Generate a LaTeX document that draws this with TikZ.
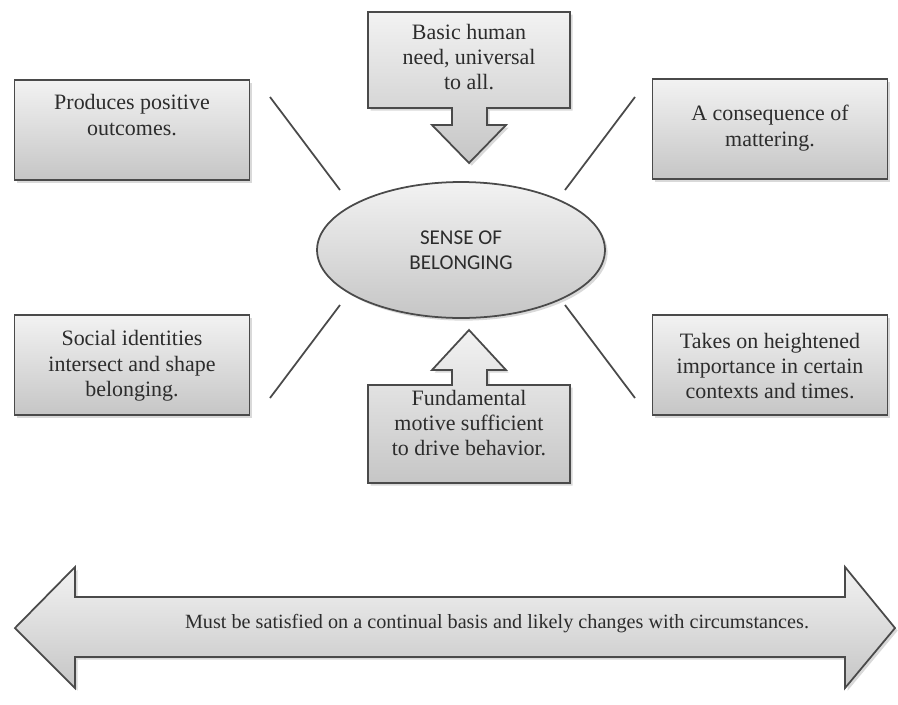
\documentclass[tikz,border=0pt]{standalone}
\usepackage{fontspec}
\setmainfont{Liberation Serif}
\newfontfamily\ovalfont{Carlito}
\usetikzlibrary{shapes.geometric,shadows}
\definecolor{boxline}{HTML}{4A4A4A}
\definecolor{inktext}{HTML}{2C2C2C}
\tikzset{
  panel/.style={draw=boxline, line width=1pt, top color=gray!10, bottom color=gray!45,
    drop shadow={opacity=.3, shadow xshift=1.5pt, shadow yshift=-1.5pt}},
  sidebox/.style={panel, rectangle, minimum width=4.7cm, minimum height=2cm, inner sep=0pt},
  note/.style={text=inktext, align=center, inner sep=0pt, font=\fontsize{12.5}{14.4}\selectfont},
  spoke/.style={draw=boxline, line width=1pt},
}
\begin{document}
\begin{tikzpicture}[x=0.02cm, y=-0.02cm]
  \useasboundingbox (0,0) rectangle (898,704);

  % centre oval
  \node[panel, ellipse, minimum width=5.76cm, minimum height=2.72cm, inner sep=0pt,
        text=inktext, align=center, font=\ovalfont\fontsize{12}{14.5}\selectfont]
        (sense) at (461,250) {SENSE OF\\BELONGING};

  % four side boxes
  \node[sidebox] (posbox) at (132,130) {};
  \node[note] (pos) at (132,115) {Produces positive\\outcomes.};
  \node[sidebox] (matbox) at (770,129) {};
  \node[note] (mat) at (770,128) {A consequence of\\mattering.};
  \node[sidebox] (socbox) at (132,365) {};
  \node[note] (soc) at (132,366) {Social identities\\intersect and shape\\belonging.};
  \node[sidebox] (ctxbox) at (770,365) {};
  \node[note] (ctx) at (770,366) {Takes on heightened\\importance in certain\\contexts and times.};

  % callout from above
  \draw[panel] (368,12) -- (570,12) -- (570,108) -- (487,108) -- (487,125) -- (506,125)
    -- (469,163) -- (432,125) -- (452,125) -- (452,108) -- (368,108) -- cycle;
  \node[note] (need) at (469,57) {Basic human\\need, universal\\to all.};

  % callout from below
  \draw[panel] (368,385) -- (452,385) -- (452,370) -- (432,370) -- (469,330) -- (506,370)
    -- (487,370) -- (487,385) -- (570,385) -- (570,483) -- (368,483) -- cycle;
  \node[note] (drive) at (469,423) {Fundamental\\motive sufficient\\to drive behavior.};

  % spokes
  \coordinate (a1) at (270,97);  \coordinate (a2) at (340,190);
  \coordinate (b1) at (635,97);  \coordinate (b2) at (565,190);
  \coordinate (c1) at (340,305); \coordinate (c2) at (270,398);
  \coordinate (d1) at (565,305); \coordinate (d2) at (635,398);
  \draw[spoke] (a1) -- (a2);
  \draw[spoke] (b1) -- (b2);
  \draw[spoke] (c1) -- (c2);
  \draw[spoke] (d1) -- (d2);

  % double arrow along the bottom
  \draw[panel] (15,628) -- (75,567) -- (75,597) -- (845,597) -- (845,567) -- (895,628)
    -- (845,688) -- (845,657) -- (75,657) -- (75,688) -- cycle;
  \node[note, font=\fontsize{11.5}{13}\selectfont] (basis) at (497,624)
    {Must be satisfied on a continual basis and likely changes with circumstances.};
\end{tikzpicture}
\end{document}
